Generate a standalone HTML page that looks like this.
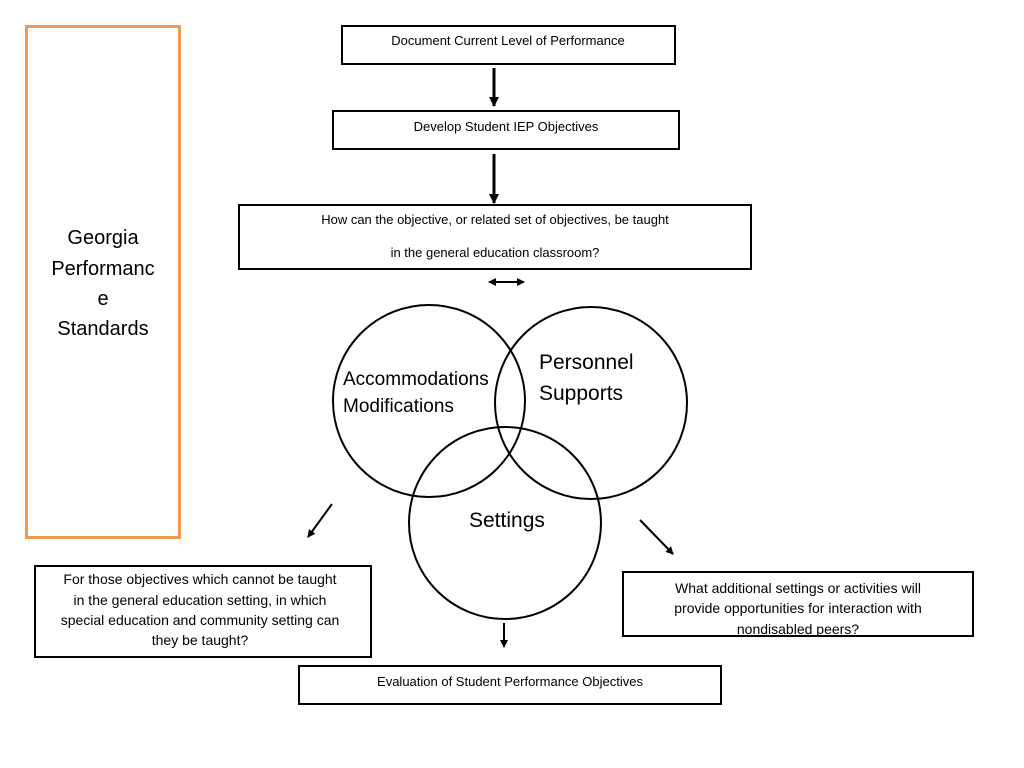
<!DOCTYPE html>
<html><head><meta charset="utf-8"><style>
html,body{margin:0;padding:0;background:#fff;}
svg{display:block;}
text{font-family:"Liberation Sans",sans-serif;fill:#000;}
</style></head><body>
<svg width="1024" height="768" viewBox="0 0 1024 768" xmlns="http://www.w3.org/2000/svg">
<defs>
<marker id="ah" markerWidth="8" markerHeight="8" refX="7" refY="4" orient="auto" markerUnits="userSpaceOnUse">
<path d="M0,0 L8,4 L0,8 z" fill="#000"/></marker>
<marker id="ah2" markerWidth="10" markerHeight="10" refX="9" refY="5" orient="auto" markerUnits="userSpaceOnUse">
<path d="M0,0 L10,5 L0,10 z" fill="#000"/></marker>
<marker id="as" markerWidth="8" markerHeight="8" refX="1" refY="4" orient="auto" markerUnits="userSpaceOnUse">
<path d="M8,0 L0,4 L8,8 z" fill="#000"/></marker>
</defs>
<rect x="26.5" y="26.5" width="153" height="511" fill="none" stroke="#ef9a4f" stroke-width="3"/>
<g font-size="20" text-anchor="middle">
<text x="103" y="244">Georgia</text>
<text x="103" y="275">Performanc</text>
<text x="103" y="305">e</text>
<text x="103" y="335">Standards</text>
</g>
<g fill="none" stroke="#000" stroke-width="2">
<rect x="342" y="26" width="333" height="38"/>
<rect x="333" y="111" width="346" height="38"/>
<rect x="239" y="205" width="512" height="64"/>
<rect x="35" y="566" width="336" height="91"/>
<rect x="623" y="572" width="350" height="64"/>
<rect x="299" y="666" width="422" height="38"/>
<circle cx="429" cy="401" r="96"/>
<circle cx="591" cy="403" r="96"/>
<circle cx="505" cy="523" r="96"/>
</g>
<g stroke="#000" stroke-width="3">
<line x1="494" y1="68" x2="494" y2="106" marker-end="url(#ah2)"/>
<line x1="494" y1="154" x2="494" y2="203" marker-end="url(#ah2)"/>
</g>
<g stroke="#000" stroke-width="2">
<line x1="489" y1="282" x2="524" y2="282" marker-end="url(#ah)" marker-start="url(#as)"/>
<line x1="332" y1="504" x2="308" y2="537" marker-end="url(#ah)"/>
<line x1="640" y1="520" x2="673" y2="554" marker-end="url(#ah)"/>
<line x1="504" y1="623" x2="504" y2="647" marker-end="url(#ah)"/>
</g>
<g font-size="13" text-anchor="middle">
<text x="508" y="45">Document Current Level of Performance</text>
<text x="506" y="131">Develop Student IEP Objectives</text>
<text x="495" y="224">How can the objective, or related set of objectives, be taught</text>
<text x="495" y="257">in the general education classroom?</text>
<text x="510" y="686">Evaluation of Student Performance Objectives</text>
</g>
<g font-size="14" text-anchor="middle">
<text x="200" y="584">For those objectives which cannot be taught</text>
<text x="200" y="605">in the general education setting, in which</text>
<text x="200" y="625">special education and community setting can</text>
<text x="200" y="645">they be taught?</text>
<text x="798" y="593">What additional settings or activities will</text>
<text x="798" y="613">provide opportunities for interaction with</text>
<text x="798" y="634">nondisabled peers?</text>
</g>
<g font-size="19">
<text x="343" y="385">Accommodations</text>
<text x="343" y="412">Modifications</text>
<text x="539" y="369" font-size="21">Personnel</text>
<text x="539" y="400" font-size="21">Supports</text>
<text x="469" y="527" font-size="21">Settings</text>
</g>
</svg>
</body></html>
